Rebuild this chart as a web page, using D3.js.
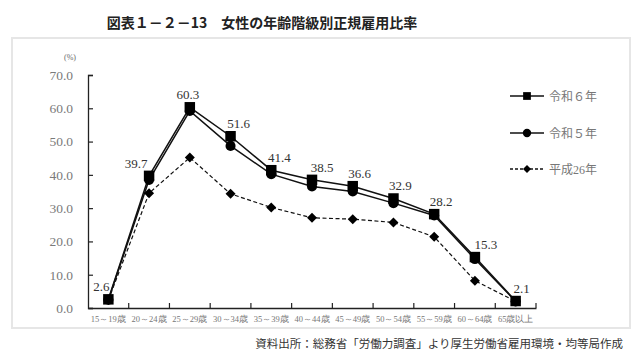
<!DOCTYPE html>
<html><head><meta charset="utf-8">
<script src="https://cdn.jsdelivr.net/npm/d3@7"></script>
<style>
html,body{margin:0;padding:0;background:#fff;}
svg{display:block;}
</style></head>
<body>
<svg id="c" width="640" height="356"></svg>
<script>
const categories = ["15～19歳","20～24歳","25～29歳","30～34歳","35～39歳","40～44歳","45～49歳","50～54歳","55～59歳","60～64歳","65歳以上"];
const r6 = [2.6, 39.7, 60.3, 51.6, 41.4, 38.5, 36.6, 32.9, 28.2, 15.3, 2.1];
const r5 = [2.5, 38.5, 59.2, 48.7, 40.2, 36.5, 35.0, 31.5, 27.8, 14.7, 2.0];
const h26 = [2.4, 34.5, 45.2, 34.3, 30.2, 27.1, 26.7, 25.7, 21.4, 8.2, 2.0];
const yTicks = [0, 10, 20, 30, 40, 50, 60, 70];
const seriesNames = ["令和６年", "令和５年", "平成26年"];
const title = "図表１－２－13　女性の年齢階級別正規雇用比率";
const source = "資料出所：総務省「労働力調査」より厚生労働省雇用環境・均等局作成";

const svg = d3.select("#c");
const serif = "'Liberation Serif','DejaVu Serif',serif";
const jp = "'Noto Sans CJK JP','Noto Sans',sans-serif";

// frame
svg.append("rect").attr("x", 12).attr("y", 38).attr("width", 618).attr("height", 290)
  .attr("fill", "none").attr("stroke", "#e6e6e6").attr("stroke-width", 2);

svg.append("text").attr("x", 262).attr("y", 28).attr("text-anchor", "middle")
  .attr("font-family", jp).attr("font-weight", "bold").attr("font-size", 14).attr("fill", "#222")
  .text(title);

svg.append("text").attr("x", 623).attr("y", 348).attr("text-anchor", "end")
  .attr("font-family", jp).attr("font-size", 11.5).attr("fill", "#333")
  .text(source);

const x = d3.scaleBand().domain(categories).range([88, 536]);
const y = d3.scaleLinear().domain([0, 70]).range([308, 75]);
const cx = d => x(d) + x.bandwidth() / 2;

// y axis
const ya = svg.append("g").attr("transform", "translate(88,0)")
  .call(d3.axisLeft(y).tickValues(yTicks).tickFormat(d3.format(".1f")).tickSize(-5).tickPadding(15));
ya.select(".domain").attr("stroke", "#222").attr("stroke-width", 1.3);
ya.selectAll(".tick line").attr("stroke", "#222").attr("stroke-width", 1.2);
ya.selectAll("text").attr("font-family", serif).attr("font-size", 13.5).attr("fill", "#7a7a7a");

svg.append("text").attr("x", 70).attr("y", 60).attr("text-anchor", "middle")
  .attr("font-family", serif).attr("font-size", 8).attr("fill", "#666").text("(%)");

// x axis
const xa = svg.append("g").attr("transform", "translate(0,308)")
  .call(d3.axisBottom(x).tickSize(0).tickPadding(8));
xa.select(".domain").attr("stroke", "#222").attr("stroke-width", 1.3);
xa.selectAll("text").attr("font-family", serif).attr("font-size", 8.5).attr("fill", "#777");
// inward ticks at category boundaries
const bounds = categories.slice(1).map(c => x(c)).concat([536]);
svg.append("g").selectAll("line").data(bounds).join("line")
  .attr("x1", d => d).attr("x2", d => d).attr("y1", 308).attr("y2", 303)
  .attr("stroke", "#222").attr("stroke-width", 1.2);

const line = d3.line().x((d, i) => cx(categories[i])).y(d => y(d));

svg.append("path").datum(h26).attr("d", line).attr("fill", "none")
  .attr("stroke", "#111").attr("stroke-width", 1.2).attr("stroke-dasharray", "4,2.5");
svg.append("path").datum(r5).attr("d", line).attr("fill", "none")
  .attr("stroke", "#111").attr("stroke-width", 1.5);
svg.append("path").datum(r6).attr("d", line).attr("fill", "none")
  .attr("stroke", "#111").attr("stroke-width", 1.5);

const sym = (type, size) => d3.symbol().type(type).size(size)();
const diamond = r => `M0,${-r}L${r},0L0,${r}L${-r},0Z`;

svg.append("g").selectAll("path").data(h26).join("path")
  .attr("transform", (d, i) => `translate(${cx(categories[i])},${y(d)})`)
  .attr("d", diamond(5)).attr("fill", "#000");
svg.append("g").selectAll("path").data(r5).join("path")
  .attr("transform", (d, i) => `translate(${cx(categories[i])},${y(d)})`)
  .attr("d", sym(d3.symbolCircle, 80)).attr("fill", "#000");
svg.append("g").selectAll("path").data(r6).join("path")
  .attr("transform", (d, i) => `translate(${cx(categories[i])},${y(d)})`)
  .attr("d", sym(d3.symbolSquare, 110)).attr("fill", "#000");

// data labels
const labelDx = [-7, -13, -2, 8, 8, 10, 7, 7, 7, 11, 6];
svg.append("g").selectAll("text").data(r6).join("text")
  .attr("x", (d, i) => cx(categories[i]) + labelDx[i])
  .attr("y", d => y(d) - 8)
  .attr("text-anchor", "middle")
  .attr("font-family", serif).attr("font-size", 13).attr("fill", "#333")
  .text(d => d.toFixed(1));

// legend
const legY = [96, 133, 169];
const lg = svg.append("g");
seriesNames.forEach((n, i) => {
  lg.append("line").attr("x1", 510).attr("x2", 544).attr("y1", legY[i]).attr("y2", legY[i])
    .attr("stroke", "#111").attr("stroke-width", 1.3).attr("stroke-dasharray", i === 2 ? "3,2" : null);
  lg.append("path").attr("transform", `translate(527,${legY[i]})`)
    .attr("d", i === 0 ? sym(d3.symbolSquare, 60) : i === 1 ? sym(d3.symbolCircle, 55) : diamond(4))
    .attr("fill", "#000");
  lg.append("text").attr("x", 549).attr("y", legY[i] + 4.5)
    .attr("font-family", serif + "," + jp).attr("font-size", 12).attr("fill", "#777").text(n);
});
</script>
</body></html>
